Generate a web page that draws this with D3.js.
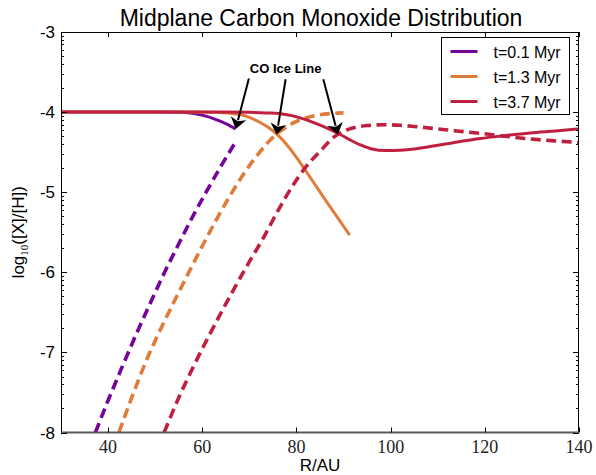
<!DOCTYPE html>
<html>
<head>
<meta charset="utf-8">
<script src="https://cdn.jsdelivr.net/npm/d3@7"></script>
<style>
body { margin: 0; background: #fff; }
svg { display: block; font-family: "Liberation Sans", Arial, sans-serif; }
</style>
</head>
<body>
<div id="chart"></div>
<script>
// series labels and colours
const labels = ['t=0.1 Myr', 't=1.3 Myr', 't=3.7 Myr'];
const colors = ['#74049a', '#e07b39', '#c0203f'];

// solid curves [R/AU, log10 X/H]
const solid01 = [[30,-4],[50,-4],[55.4,-4.002],[57.5,-4.012],[59.7,-4.035],[61.5,-4.062],[63.2,-4.10],[65.2,-4.15],[67.1,-4.21]];
const solid13 = [[30,-4],[58,-4],[61,-4.002],[64,-4.006],[66,-4.013],[68,-4.03],[70,-4.065],[72,-4.12],[74,-4.19],[76,-4.285],[78,-4.41],[80,-4.565],[82,-4.735],[84,-4.91],[86,-5.085],[88,-5.255],[90,-5.425],[91.3,-5.535]];
const solid37 = [[30,-4],[65,-4],[70,-4.003],[73.5,-4.01],[76.6,-4.02],[79.5,-4.05],[82.3,-4.10],[84.5,-4.15],[86.5,-4.20],[89.3,-4.28],[91.5,-4.35],[93.6,-4.41],[96,-4.46],[98.9,-4.48],[102,-4.475],[105,-4.46],[108.4,-4.43],[113,-4.385],[119,-4.33],[124,-4.295],[129.6,-4.26],[135,-4.235],[140,-4.21]];

// dashed curves
const dash01 = [[37.3,-8],[40,-7.60],[43,-7.18],[46,-6.77],[49,-6.38],[52,-6.0],[55,-5.645],[58,-5.30],[61,-4.98],[64,-4.672],[67.1,-4.372]];
const dash13 = [[42.3,-8],[45,-7.568],[48,-7.118],[51,-6.728],[54,-6.368],[57,-6.017],[60,-5.672],[63,-5.342],[66,-5.033],[69,-4.754],[72,-4.514],[75,-4.316],[78,-4.181],[81,-4.091],[84,-4.043],[87,-4.019],[90,-4.01]];
const dash37 = [[51.9,-8],[55,-7.566],[58,-7.191],[61,-6.84],[64,-6.504],[67,-6.18],[70,-5.868],[73,-5.568],[76,-5.238],[79,-4.938],[82,-4.683],[85,-4.49],[88,-4.31],[89,-4.27],[91,-4.215],[93,-4.185],[95,-4.168],[97,-4.16],[99,-4.158],[102,-4.165],[105,-4.18],[108.4,-4.20],[114,-4.235],[119,-4.265],[124,-4.30],[129.6,-4.335],[135,-4.36],[140,-4.38]];

// annotation: text anchor, arrow tails and tips (data coords)
const iceText = [77.7, -3.51];
const arrowFrom = [[69.9,-3.58],[77.7,-3.59],[85.7,-3.59]];
const arrowTo = [[67.1,-4.21],[75.8,-4.28],[88.8,-4.28]];

const xTicks = [40, 60, 80, 100, 120, 140];
const yTicks = [-8, -7, -6, -5, -4, -3];

const W = 596, H = 475;
const margin = {top: 32, right: 17, bottom: 42, left: 61};

const svg = d3.select('#chart').append('svg')
    .attr('width', W)
    .attr('height', H);

const x = d3.scaleLinear().domain([30, 140]).range([margin.left, W - margin.right]);
const y = d3.scaleLinear().domain([-8, -3]).range([H - margin.bottom - 0.5, margin.top]);

svg.append('defs').append('clipPath').attr('id', 'clip')
    .append('rect')
    .attr('x', x(30)).attr('y', y(-3))
    .attr('width', x(140) - x(30)).attr('height', y(-8) - y(-3));

// title
svg.append('text')
    .attr('x', (x(30) + x(140)) / 2 + 1)
    .attr('y', 26)
    .attr('text-anchor', 'middle')
    .style('font-size', '23px')
    .text('Midplane Carbon Monoxide Distribution');

const line = d3.line()
    .x(d => x(d[0]))
    .y(d => y(d[1]))
    .curve(d3.curveMonotoneX);

const plot = svg.append('g').attr('clip-path', 'url(#clip)');
const series = [
    [solid01, dash01],
    [solid13, dash13],
    [solid37, dash37]
];
series.forEach((s, i) => {
    plot.append('path')
        .datum(s[0])
        .attr('d', line)
        .attr('fill', 'none')
        .attr('stroke', colors[i])
        .attr('stroke-width', 3);
    plot.append('path')
        .datum(s[1])
        .attr('d', line)
        .attr('fill', 'none')
        .attr('stroke', colors[i])
        .attr('stroke-width', 3.6)
        .attr('stroke-dasharray', '10,5.5');
});

// frame
const x0 = x(30), x1 = x(140), y0 = y(-8), y1 = y(-3);
svg.append('line').attr('x1', x0).attr('x2', x1).attr('y1', y1 + 0.5).attr('y2', y1 + 0.5).attr('stroke', '#000');
svg.append('line').attr('x1', x0 + 0.5).attr('x2', x0 + 0.5).attr('y1', y1).attr('y2', y0).attr('stroke', '#000');
svg.append('line').attr('x1', x1 - 0.5).attr('x2', x1 - 0.5).attr('y1', y1).attr('y2', y0).attr('stroke', '#000');
svg.append('line').attr('x1', x0).attr('x2', x1).attr('y1', y0).attr('y2', y0).attr('stroke', '#5a5a5a').attr('stroke-width', 2);

// ticks
const ticks = svg.append('g').attr('stroke', '#000').attr('stroke-width', 1);
xTicks.forEach(t => {
    const px = Math.round(x(t)) + 0.5;
    ticks.append('line').attr('x1', px).attr('x2', px).attr('y1', y0).attr('y2', y0 - 5);
    ticks.append('line').attr('x1', px).attr('x2', px).attr('y1', y1).attr('y2', y1 + 5);
});
yTicks.forEach(t => {
    const py = Math.round(y(t)) + 0.5;
    ticks.append('line').attr('x1', x0).attr('x2', x0 + 6).attr('y1', py).attr('y2', py);
    ticks.append('line').attr('x1', x1).attr('x2', x1 - 6).attr('y1', py).attr('y2', py);
});
// log-style minor ticks between the decades
d3.range(-8, -3).forEach(n => {
    d3.range(2, 10).forEach(k => {
        const py = Math.round(y(n + Math.log10(k))) + 0.5;
        ticks.append('line').attr('x1', x0).attr('x2', x0 + 3).attr('y1', py).attr('y2', py);
        ticks.append('line').attr('x1', x1).attr('x2', x1 - 3).attr('y1', py).attr('y2', py);
    });
});

// tick labels
svg.append('g').selectAll('text')
    .data(xTicks)
    .enter().append('text')
    .attr('x', d => x(d))
    .attr('y', y0 + 20)
    .attr('text-anchor', 'middle')
    .style('font-family', '"Liberation Serif", "DejaVu Serif", serif')
    .style('font-size', '18px')
    .attr('fill', '#222')
    .text(d => d);
svg.append('g').selectAll('text')
    .data(yTicks)
    .enter().append('text')
    .attr('x', x0 - 6)
    .attr('y', d => y(d) + 6)
    .attr('text-anchor', 'end')
    .style('font-size', '17px')
    .text(d => d);

// axis labels
svg.append('text')
    .attr('x', (x0 + x1) / 2)
    .attr('y', 471)
    .attr('text-anchor', 'middle')
    .style('font-size', '17px')
    .text('R/AU');

const yl = svg.append('text')
    .attr('transform', `translate(24, ${(y0 + y1) / 2}) rotate(-90)`)
    .attr('text-anchor', 'middle')
    .style('font-size', '17px');
yl.append('tspan').text('log');
yl.append('tspan')
    .attr('dy', 4)
    .style('font-family', '"Liberation Serif", "DejaVu Serif", serif')
    .style('font-size', '11px')
    .text('10');
yl.append('tspan').attr('dy', -4).text('([X]/[H])');

// CO ice line annotation
svg.append('text')
    .attr('x', x(iceText[0]))
    .attr('y', y(iceText[1]))
    .attr('text-anchor', 'middle')
    .style('font-size', '13px')
    .style('font-weight', 'bold')
    .text('CO Ice Line');

arrowFrom.forEach((a, i) => {
    const ax = x(a[0]), ay = y(a[1]);
    const bx = x(arrowTo[i][0]), by = y(arrowTo[i][1]);
    const len = Math.hypot(bx - ax, by - ay);
    const ux = (bx - ax) / len, uy = (by - ay) / len;
    const hl = 11, hw = 8;
    const baseX = bx - ux * hl, baseY = by - uy * hl;
    svg.append('line')
        .attr('x1', ax).attr('y1', ay)
        .attr('x2', baseX + ux * 2).attr('y2', baseY + uy * 2)
        .attr('stroke', '#000')
        .attr('stroke-width', 2);
    svg.append('path')
        .attr('d', `M${bx},${by}L${baseX - uy * hw},${baseY + ux * hw}L${baseX + ux * 3},${baseY + uy * 3}L${baseX + uy * hw},${baseY - ux * hw}Z`)
        .attr('fill', '#000');
});

// legend
const legend = svg.append('g').attr('transform', 'translate(441.5, 37.5)');
legend.append('rect')
    .attr('width', 128)
    .attr('height', 77)
    .attr('fill', '#fff')
    .attr('stroke', '#000');
labels.forEach((l, i) => {
    const ly = 14 + i * 25;
    legend.append('line')
        .attr('x1', 9).attr('x2', 36)
        .attr('y1', ly).attr('y2', ly)
        .attr('stroke', colors[i])
        .attr('stroke-width', 3);
    legend.append('text')
        .attr('x', 52)
        .attr('y', ly + 6)
        .style('font-size', '16px')
        .text(l);
});
</script>
</body>
</html>
